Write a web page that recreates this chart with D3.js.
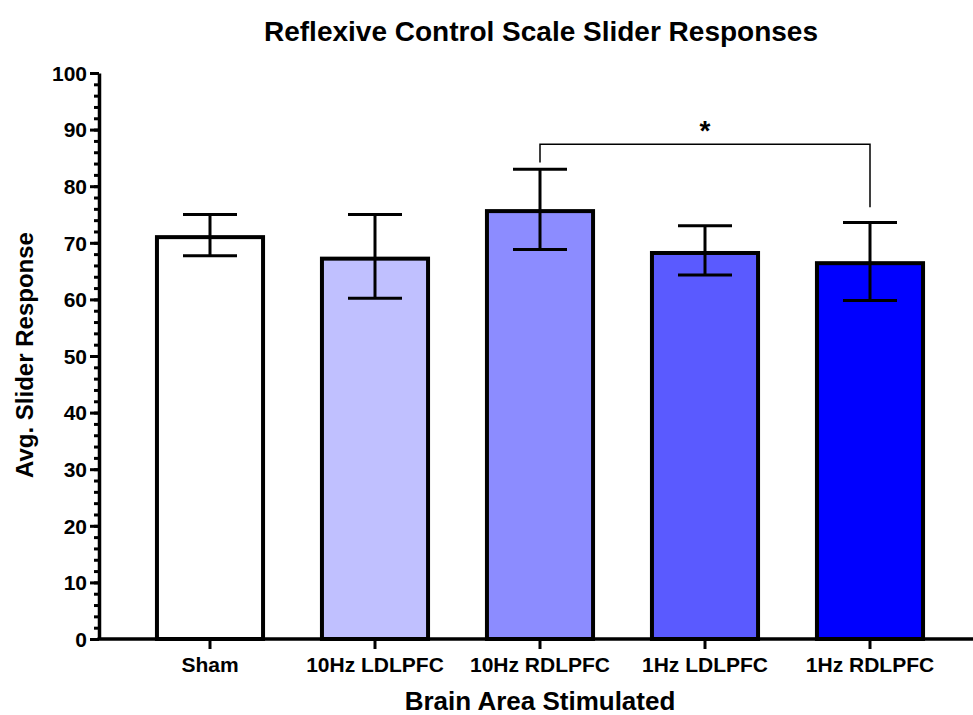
<!DOCTYPE html>
<html>
<head>
<meta charset="utf-8">
<script src="https://cdn.jsdelivr.net/npm/d3@7"></script>
<style>
  body { margin: 0; background: #fff; }
  text { font-family: "Liberation Sans", Arial, sans-serif; font-weight: bold; fill: #000; }
</style>
</head>
<body>
<div id="chart"></div>
<script>
// data
const groups = ["Sham", "10Hz LDLPFC", "10Hz RDLPFC", "1Hz LDLPFC", "1Hz RDLPFC"];
const means = [71.0, 67.2, 75.6, 68.2, 66.4];
const lower = [67.7, 60.2, 68.8, 64.3, 59.8];
const upper = [75.0, 75.0, 83.0, 73.0, 73.6];
const colors = ["#ffffff", "#c0c0ff", "#8c8cff", "#5a5aff", "#0000ff"];
const yTicks = [0, 10, 20, 30, 40, 50, 60, 70, 80, 90, 100];
// significance bracket: from group, to group, bar level, left leg end, right leg end
const sigFrom = "10Hz RDLPFC", sigTo = "1Hz RDLPFC";
const sigLevel = [87.4, 84.2, 76.3];

const width = 973, height = 715;
const axisX = 99, axisY = 639, topY = 73;

let svg = d3.select("#chart").append("svg")
  .attr("width", width)
  .attr("height", height);

// scales
let x = d3.scaleBand().domain(groups).range([127.5, 952.5])
  .paddingInner(0.357).paddingOuter(0.1785);
let y = d3.scaleLinear().domain([0, 100]).range([axisY, topY]);

// bars
svg.selectAll(".bar")
  .data(groups)
  .enter().append("rect")
  .attr("class", "bar")
  .attr("x", d => x(d))
  .attr("y", (d, i) => y(means[i]))
  .attr("width", x.bandwidth())
  .attr("height", (d, i) => y(0) - y(means[i]))
  .attr("fill", (d, i) => colors[i])
  .attr("stroke", "#000")
  .attr("stroke-width", 4);

// error bars
let capW = 54;
let err = svg.selectAll(".err").data(groups).enter().append("g")
  .attr("class", "err")
  .attr("stroke", "#000")
  .attr("stroke-width", 3);
err.append("line")
  .attr("x1", d => x(d) + x.bandwidth() / 2)
  .attr("x2", d => x(d) + x.bandwidth() / 2)
  .attr("y1", (d, i) => y(lower[i]))
  .attr("y2", (d, i) => y(upper[i]));
err.append("line")
  .attr("x1", d => x(d) + x.bandwidth() / 2 - capW / 2)
  .attr("x2", d => x(d) + x.bandwidth() / 2 + capW / 2)
  .attr("y1", (d, i) => y(upper[i]))
  .attr("y2", (d, i) => y(upper[i]));
err.append("line")
  .attr("x1", d => x(d) + x.bandwidth() / 2 - capW / 2)
  .attr("x2", d => x(d) + x.bandwidth() / 2 + capW / 2)
  .attr("y1", (d, i) => y(lower[i]))
  .attr("y2", (d, i) => y(lower[i]));

// significance bracket
let sx1 = x(sigFrom) + x.bandwidth() / 2,
  sx2 = x(sigTo) + x.bandwidth() / 2;
svg.append("path")
  .attr("d", "M" + sx1 + "," + y(sigLevel[1]) + "V" + y(sigLevel[0]) +
    "H" + sx2 + "V" + y(sigLevel[2]))
  .attr("fill", "none")
  .attr("stroke", "#000")
  .attr("stroke-width", 1.5);
svg.append("text")
  .attr("x", (sx1 + sx2) / 2)
  .attr("y", y(sigLevel[0]) - 4)
  .attr("text-anchor", "middle")
  .style("font-size", "28px")
  .text("*");

// y axis, minor ticks
svg.append("g")
  .attr("transform", "translate(" + axisX + ",0)")
  .call(d3.axisLeft(y).tickValues(d3.range(0, 101, 2)).tickSize(5).tickFormat(""))
  .call(g => g.select(".domain").remove())
  .call(g => g.selectAll("line").attr("stroke-width", 3));

// y axis, major ticks
svg.append("g")
  .attr("transform", "translate(" + axisX + ",0)")
  .call(d3.axisLeft(y).tickValues(yTicks).tickSize(9).tickSizeOuter(0).tickPadding(3))
  .call(g => g.select(".domain").attr("stroke-width", 3.5))
  .call(g => g.selectAll("line").attr("stroke-width", 3))
  .call(g => g.selectAll("text").style("font-size", "21px").attr("dy", "0.35em"));

// x axis
let xAxis = svg.append("g")
  .attr("transform", "translate(0," + axisY + ")")
  .call(d3.axisBottom(x).tickSize(10).tickPadding(8))
  .call(g => g.select(".domain").remove())
  .call(g => g.selectAll("line").attr("stroke-width", 3))
  .call(g => g.selectAll("text").style("font-size", "21px"));
xAxis.append("line")
  .attr("x1", axisX - 1.5)
  .attr("x2", width)
  .attr("stroke", "#000")
  .attr("stroke-width", 3.5);

// titles
svg.append("text")
  .attr("x", 541)
  .attr("y", 41)
  .attr("text-anchor", "middle")
  .style("font-size", "28px")
  .text("Reflexive Control Scale Slider Responses");

svg.append("text")
  .attr("x", 540)
  .attr("y", 710)
  .attr("text-anchor", "middle")
  .style("font-size", "26px")
  .text("Brain Area Stimulated");

svg.append("text")
  .attr("transform", "translate(33,355) rotate(-90)")
  .attr("text-anchor", "middle")
  .style("font-size", "24px")
  .text("Avg. Slider Response");
</script>
</body>
</html>
